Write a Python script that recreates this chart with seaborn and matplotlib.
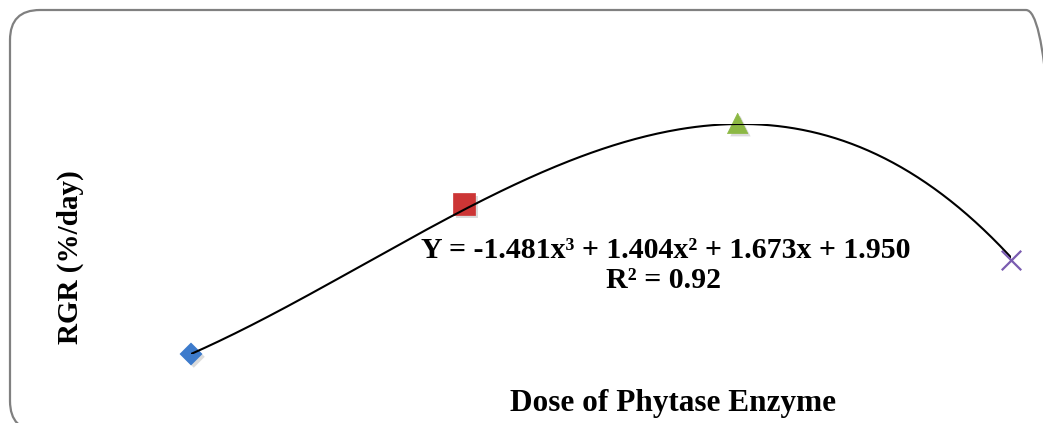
import matplotlib
matplotlib.use("Agg")
import matplotlib.pyplot as plt
import matplotlib.patheffects as pe
from matplotlib.patches import FancyBboxPatch
import numpy as np
import seaborn as sns

doses = [0.0, 0.5, 1.0, 1.5]
rgr = [1.95, 2.99, 3.55, 2.60]
marker_styles = ["D", "s", "^", "x"]
marker_colors = ["#3D7BCC", "#CC3535", "#8CB844", "#7A5CB0"]
marker_sizes = [125, 245, 215, 196]

# cubic trendline coefficients as printed on the chart
coefs = [-1.481, 1.404, 1.673, 1.950]
equation = "Y = -1.481x³ + 1.404x² + 1.673x + 1.950"
r2_text = "R² = 0.92"

sns.set_style("white")
plt.rcParams["font.family"] = ["Liberation Serif", "DejaVu Serif"]

W, H = 1043, 423
fig = plt.figure(figsize=(W / 100, H / 100), dpi=100)

# rounded chart-area border (in inches so rounding is circular)
border = FancyBboxPatch((0.10, -0.08), 10.46, 4.21,
                        boxstyle="round,pad=0,rounding_size=0.30",
                        transform=fig.dpi_scale_trans, facecolor="none",
                        edgecolor="#808080", linewidth=1.6, zorder=-1)
fig.patches.append(border)

# axes placed so x=0 -> 191px, x=1.5 -> 1011px ; y=1.95 -> 354px, y=3.546 -> 124px
ax = fig.add_axes([191 / W, 1 - 354 / H, 820 / W, 230 / H])
ax.set_facecolor("none")

xs = np.linspace(doses[0], doses[-1], 300)
ys = np.polyval(coefs, xs)
sns.lineplot(x=xs, y=ys, ax=ax, color="black", linewidth=1.5, zorder=3)

shadow = [pe.SimplePatchShadow(offset=(2, -2), shadow_rgbFace="#9a9a9a", alpha=0.35), pe.Normal()]
for d, v, m, c, s in zip(doses, rgr, marker_styles, marker_colors, marker_sizes):
    if m == "x":
        ax.scatter([d], [v], marker=m, s=s, color=c, linewidths=1.6, zorder=4,
                   clip_on=False)
    else:
        sc = ax.scatter([d], [v], marker=m, s=s, color=c, edgecolors=c,
                        linewidths=0.5, zorder=2, clip_on=False)
        sc.set_path_effects(shadow)

ax.set_xlim(0, 1.5)
ax.set_ylim(1.95, 3.546)
ax.axis("off")

txt = dict(ha="center", va="center", fontweight="bold", color="black")
fig.text(666 / W, 1 - 250 / H, equation, fontsize=21.5, **txt)
fig.text(664 / W, 1 - 280 / H, r2_text, fontsize=21.5, **txt)
fig.text(673 / W, 1 - 403 / H, "Dose of Phytase Enzyme", fontsize=22.5, **txt)
fig.text(70 / W, 1 - 257 / H, "RGR (%/day)", rotation=90, fontsize=21, **txt)

fig.savefig("out.png", dpi=100)
